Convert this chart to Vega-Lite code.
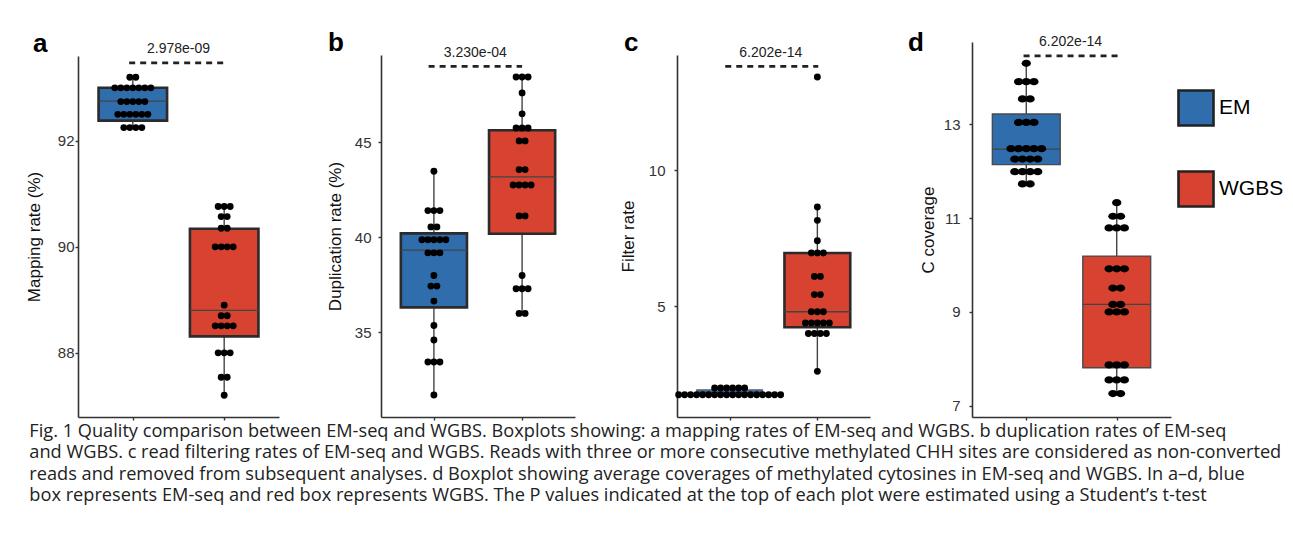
{
"$schema": "https://vega.github.io/schema/vega-lite/v6.json",
"padding": {"left": 25, "top": 29, "right": 5, "bottom": 5},
"background": "white",
"config": {
 "view": {"stroke": null},
 "font": "Liberation Sans",
 "axis": {"grid": false, "domainColor": "#333", "domainWidth": 1.6, "tickColor": "#333", "tickWidth": 1.4, "tickSize": 3, "labelFontSize": 15, "labelColor": "#333", "labelFont": "Liberation Sans", "titleFont": "Liberation Sans", "titleFontSize": 17, "titleFontWeight": "normal", "titleColor": "#111"},
 "text": {"font": "Liberation Sans"}
},
"datasets": {
 "dots": [
  {"p":"a","m":"EM","v":93.2},{"p":"a","m":"EM","v":93.2},
  {"p":"a","m":"EM","v":93.0},{"p":"a","m":"EM","v":93.0},{"p":"a","m":"EM","v":93.0},{"p":"a","m":"EM","v":93.0},{"p":"a","m":"EM","v":93.0},{"p":"a","m":"EM","v":93.0},{"p":"a","m":"EM","v":93.0},
  {"p":"a","m":"EM","v":92.74},{"p":"a","m":"EM","v":92.74},{"p":"a","m":"EM","v":92.74},{"p":"a","m":"EM","v":92.74},{"p":"a","m":"EM","v":92.74},
  {"p":"a","m":"EM","v":92.5},{"p":"a","m":"EM","v":92.5},{"p":"a","m":"EM","v":92.5},{"p":"a","m":"EM","v":92.5},{"p":"a","m":"EM","v":92.5},{"p":"a","m":"EM","v":92.5},
  {"p":"a","m":"EM","v":92.25},{"p":"a","m":"EM","v":92.25},{"p":"a","m":"EM","v":92.25},{"p":"a","m":"EM","v":92.25},
  {"p":"a","m":"WGBS","v":90.76},{"p":"a","m":"WGBS","v":90.76},{"p":"a","m":"WGBS","v":90.76},
  {"p":"a","m":"WGBS","v":90.57},{"p":"a","m":"WGBS","v":90.57},
  {"p":"a","m":"WGBS","v":90.35},{"p":"a","m":"WGBS","v":90.35},
  {"p":"a","m":"WGBS","v":90.0},{"p":"a","m":"WGBS","v":90.0},{"p":"a","m":"WGBS","v":90.0},{"p":"a","m":"WGBS","v":90.0},
  {"p":"a","m":"WGBS","v":88.9},
  {"p":"a","m":"WGBS","v":88.7},{"p":"a","m":"WGBS","v":88.7},
  {"p":"a","m":"WGBS","v":88.51},{"p":"a","m":"WGBS","v":88.51},{"p":"a","m":"WGBS","v":88.51},{"p":"a","m":"WGBS","v":88.51},
  {"p":"a","m":"WGBS","v":88.0},{"p":"a","m":"WGBS","v":88.0},{"p":"a","m":"WGBS","v":88.0},
  {"p":"a","m":"WGBS","v":87.54},{"p":"a","m":"WGBS","v":87.54},
  {"p":"a","m":"WGBS","v":87.2},
  {"p":"b","m":"EM","v":43.47},
  {"p":"b","m":"EM","v":41.4},{"p":"b","m":"EM","v":41.4},{"p":"b","m":"EM","v":41.4},
  {"p":"b","m":"EM","v":40.54},{"p":"b","m":"EM","v":40.54},
  {"p":"b","m":"EM","v":39.86},{"p":"b","m":"EM","v":39.86},{"p":"b","m":"EM","v":39.86},{"p":"b","m":"EM","v":39.86},{"p":"b","m":"EM","v":39.86},
  {"p":"b","m":"EM","v":39.17},{"p":"b","m":"EM","v":39.17},{"p":"b","m":"EM","v":39.17},
  {"p":"b","m":"EM","v":37.98},
  {"p":"b","m":"EM","v":37.42},{"p":"b","m":"EM","v":37.42},
  {"p":"b","m":"EM","v":36.63},
  {"p":"b","m":"EM","v":35.34},
  {"p":"b","m":"EM","v":34.58},
  {"p":"b","m":"EM","v":33.42},{"p":"b","m":"EM","v":33.42},{"p":"b","m":"EM","v":33.42},
  {"p":"b","m":"EM","v":31.68},
  {"p":"b","m":"WGBS","v":48.44},{"p":"b","m":"WGBS","v":48.44},{"p":"b","m":"WGBS","v":48.44},
  {"p":"b","m":"WGBS","v":47.6},
  {"p":"b","m":"WGBS","v":46.5},
  {"p":"b","m":"WGBS","v":45.75},{"p":"b","m":"WGBS","v":45.75},{"p":"b","m":"WGBS","v":45.75},
  {"p":"b","m":"WGBS","v":45.07},{"p":"b","m":"WGBS","v":45.07},
  {"p":"b","m":"WGBS","v":43.56},{"p":"b","m":"WGBS","v":43.56},
  {"p":"b","m":"WGBS","v":42.75},{"p":"b","m":"WGBS","v":42.75},{"p":"b","m":"WGBS","v":42.75},{"p":"b","m":"WGBS","v":42.75},
  {"p":"b","m":"WGBS","v":41.12},{"p":"b","m":"WGBS","v":41.12},
  {"p":"b","m":"WGBS","v":37.98},
  {"p":"b","m":"WGBS","v":37.28},{"p":"b","m":"WGBS","v":37.28},{"p":"b","m":"WGBS","v":37.28},
  {"p":"b","m":"WGBS","v":35.98},{"p":"b","m":"WGBS","v":35.98},
  {"p":"c","m":"EM","v":2.0},{"p":"c","m":"EM","v":2.0},{"p":"c","m":"EM","v":2.0},{"p":"c","m":"EM","v":2.0},{"p":"c","m":"EM","v":2.0},{"p":"c","m":"EM","v":2.0},
  {"p":"c","m":"EM","v":1.75},{"p":"c","m":"EM","v":1.75},{"p":"c","m":"EM","v":1.75},{"p":"c","m":"EM","v":1.75},{"p":"c","m":"EM","v":1.75},{"p":"c","m":"EM","v":1.75},
  {"p":"c","m":"EM","v":1.75},{"p":"c","m":"EM","v":1.75},{"p":"c","m":"EM","v":1.75},{"p":"c","m":"EM","v":1.75},{"p":"c","m":"EM","v":1.75},{"p":"c","m":"EM","v":1.75},
  {"p":"c","m":"EM","v":1.75},{"p":"c","m":"EM","v":1.75},{"p":"c","m":"EM","v":1.75},{"p":"c","m":"EM","v":1.75},{"p":"c","m":"EM","v":1.75},{"p":"c","m":"EM","v":1.75},
  {"p":"c","m":"WGBS","v":13.43},
  {"p":"c","m":"WGBS","v":8.65},
  {"p":"c","m":"WGBS","v":8.16},
  {"p":"c","m":"WGBS","v":7.41},
  {"p":"c","m":"WGBS","v":6.96},{"p":"c","m":"WGBS","v":6.96},{"p":"c","m":"WGBS","v":6.96},
  {"p":"c","m":"WGBS","v":6.1},{"p":"c","m":"WGBS","v":6.1},
  {"p":"c","m":"WGBS","v":5.43},{"p":"c","m":"WGBS","v":5.43},
  {"p":"c","m":"WGBS","v":4.8},{"p":"c","m":"WGBS","v":4.8},{"p":"c","m":"WGBS","v":4.8},
  {"p":"c","m":"WGBS","v":4.39},{"p":"c","m":"WGBS","v":4.39},{"p":"c","m":"WGBS","v":4.39},{"p":"c","m":"WGBS","v":4.39},{"p":"c","m":"WGBS","v":4.39},
  {"p":"c","m":"WGBS","v":4.0},{"p":"c","m":"WGBS","v":4.0},{"p":"c","m":"WGBS","v":4.0},{"p":"c","m":"WGBS","v":4.0},
  {"p":"c","m":"WGBS","v":2.61},
  {"p":"d","m":"EM","v":14.3},
  {"p":"d","m":"EM","v":13.91},{"p":"d","m":"EM","v":13.91},{"p":"d","m":"EM","v":13.91},
  {"p":"d","m":"EM","v":13.54},{"p":"d","m":"EM","v":13.54},
  {"p":"d","m":"EM","v":13.04},{"p":"d","m":"EM","v":13.04},{"p":"d","m":"EM","v":13.04},
  {"p":"d","m":"EM","v":12.48},{"p":"d","m":"EM","v":12.48},{"p":"d","m":"EM","v":12.48},{"p":"d","m":"EM","v":12.48},{"p":"d","m":"EM","v":12.48},
  {"p":"d","m":"EM","v":12.26},{"p":"d","m":"EM","v":12.26},{"p":"d","m":"EM","v":12.26},{"p":"d","m":"EM","v":12.26},
  {"p":"d","m":"EM","v":11.99},{"p":"d","m":"EM","v":11.99},{"p":"d","m":"EM","v":11.99},{"p":"d","m":"EM","v":11.99},
  {"p":"d","m":"EM","v":11.73},{"p":"d","m":"EM","v":11.73},
  {"p":"d","m":"WGBS","v":11.33},
  {"p":"d","m":"WGBS","v":11.04},{"p":"d","m":"WGBS","v":11.04},
  {"p":"d","m":"WGBS","v":10.79},{"p":"d","m":"WGBS","v":10.79},{"p":"d","m":"WGBS","v":10.79},
  {"p":"d","m":"WGBS","v":9.92},{"p":"d","m":"WGBS","v":9.92},{"p":"d","m":"WGBS","v":9.92},
  {"p":"d","m":"WGBS","v":9.51},{"p":"d","m":"WGBS","v":9.51},
  {"p":"d","m":"WGBS","v":9.16},{"p":"d","m":"WGBS","v":9.16},
  {"p":"d","m":"WGBS","v":9.0},{"p":"d","m":"WGBS","v":9.0},{"p":"d","m":"WGBS","v":9.0},
  {"p":"d","m":"WGBS","v":7.87},{"p":"d","m":"WGBS","v":7.87},{"p":"d","m":"WGBS","v":7.87},
  {"p":"d","m":"WGBS","v":7.55},{"p":"d","m":"WGBS","v":7.55},{"p":"d","m":"WGBS","v":7.55},
  {"p":"d","m":"WGBS","v":7.26},{"p":"d","m":"WGBS","v":7.26}
 ],
 "box": [
  {"p":"a","m":"EM","lo":92.25,"q1":92.38,"med":92.75,"q3":93.0,"hi":93.2},
  {"p":"a","m":"WGBS","lo":87.2,"q1":88.31,"med":88.8,"q3":90.34,"hi":90.76},
  {"p":"b","m":"EM","lo":31.68,"q1":36.3,"med":39.32,"q3":40.2,"hi":43.47},
  {"p":"b","m":"WGBS","lo":35.98,"q1":40.18,"med":43.18,"q3":45.63,"hi":48.44},
  {"p":"c","m":"EM","lo":1.75,"q1":1.8,"med":1.82,"q3":1.93,"hi":2.0},
  {"p":"c","m":"WGBS","lo":2.61,"q1":4.23,"med":4.8,"q3":6.96,"hi":8.65},
  {"p":"d","m":"EM","lo":11.73,"q1":12.14,"med":12.47,"q3":13.22,"hi":14.3},
  {"p":"d","m":"WGBS","lo":7.26,"q1":7.81,"med":9.16,"q3":10.19,"hi":11.33}
 ],
 "pv": [
  {"p":"a","label":"2.978e-09","level":93.47},
  {"p":"b","label":"3.230e-04","level":49.0},
  {"p":"c","label":"6.202e-14","level":13.82},
  {"p":"d","label":"6.202e-14","level":14.46}
 ]
},
"title": {
 "text": [
  "Fig. 1  Quality comparison between EM-seq and WGBS. Boxplots showing: a mapping rates of EM-seq and WGBS. b duplication rates of EM-seq",
  "and WGBS. c read filtering rates of EM-seq and WGBS. Reads with three or more consecutive methylated CHH sites are considered as non-converted",
  "reads and removed from subsequent analyses. d Boxplot showing average coverages of methylated cytosines in EM-seq and WGBS. In a–d, blue",
  "box represents EM-seq and red box represents WGBS. The P values indicated at the top of each plot were estimated using a Student’s t-test"
 ],
 "orient": "bottom", "anchor": "start", "frame": "bounds", "font": "Open Sans", "fontSize": 18.2, "fontWeight": "normal", "lineHeight": 21.5, "offset": 2, "color": "#222", "dx": 4
},
"resolve": {"scale": {"color": "independent"}, "legend": {"color": "independent"}},
"bounds": "flush",
"spacing": 102,
"hconcat": [
 {
  "width": 201, "height": 375,
  "title": {"text": "a", "anchor": "start", "frame": "group", "dx": -45, "dy": 36, "offset": 0, "baseline": "alphabetic", "fontSize": 26, "fontWeight": "bold", "font": "Liberation Sans", "color": "#000"},
  "encoding": {
   "x": {"field": "gx", "type": "quantitative", "scale": {"domain": [0.4, 2.6], "nice": false, "zero": false}, "axis": {"values": [1, 2], "labels": false, "title": null}},
   "y": {"field": "v", "type": "quantitative", "scale": {"domain": [86.79, 93.6], "range": [375, 14], "nice": false, "zero": false}, "axis": {"values": [88, 90, 92], "title": "Mapping rate (%)", "labelPadding": 1, "titlePadding": 14}}
  },
  "layer": [
   {"data": {"name": "box"}, "transform": [{"filter": "datum.p == 'a'"}, {"calculate": "datum.m == 'EM' ? 1 : 2", "as": "gx"}, {"calculate": "datum.lo", "as": "v"}],
    "mark": {"type": "rule", "color": "#444", "strokeWidth": 1.4}, "encoding": {"y2": {"field": "hi"}}},
   {"data": {"name": "box"}, "transform": [{"filter": "datum.p == 'a'"}, {"calculate": "(datum.m == 'EM' ? 1 : 2) - 0.375", "as": "gx"}, {"calculate": "datum.gx + 0.75", "as": "xr"}, {"calculate": "datum.q1", "as": "v"}],
    "mark": {"type": "bar", "stroke": "#2b2b2b", "strokeWidth": 2.6, "opacity": 1},
    "encoding": {"x2": {"field": "xr"}, "y2": {"field": "q3"}, "color": {"field": "m", "type": "nominal", "scale": {"domain": ["EM", "WGBS"], "range": ["#2F6DAD", "#D84231"]}, "legend": null}}},
   {"data": {"name": "box"}, "transform": [{"filter": "datum.p == 'a'"}, {"calculate": "(datum.m == 'EM' ? 1 : 2) - 0.375", "as": "gx"}, {"calculate": "datum.gx + 0.75", "as": "xr"}, {"calculate": "datum.med", "as": "v"}],
    "mark": {"type": "rule", "color": "#444", "strokeWidth": 1.3}, "encoding": {"x2": {"field": "xr"}}},
   {"data": {"name": "dots"}, "transform": [{"filter": "datum.p == 'a'"}, {"window": [{"op": "row_number", "as": "r"}, {"op": "count", "as": "n"}], "groupby": ["m", "v"], "frame": [null, null]}, {"calculate": "(datum.m == 'EM' ? 1 : 2) + (datum.r - (datum.n + 1) / 2) * 0.0657", "as": "gx"}],
    "mark": {"type": "circle", "size": 47, "color": "#000", "opacity": 1}},
   {"data": {"name": "pv"}, "transform": [{"filter": "datum.p == 'a'"}, {"calculate": "0.96", "as": "gx"}, {"calculate": "2.03", "as": "gx2"}, {"calculate": "datum.level", "as": "v"}],
    "mark": {"type": "rule", "strokeDash": [6, 5], "strokeWidth": 2.6, "color": "#222"}, "encoding": {"x2": {"field": "gx2"}}},
   {"data": {"name": "pv"}, "transform": [{"filter": "datum.p == 'a'"}, {"calculate": "1.5", "as": "gx"}, {"calculate": "datum.level", "as": "v"}],
    "mark": {"type": "text", "dy": -14, "fontSize": 14, "color": "#222", "baseline": "middle"}, "encoding": {"text": {"field": "label"}}}
  ]
 },
 {
  "width": 194, "height": 375,
  "title": {"text": "b", "anchor": "start", "frame": "group", "dx": -53, "dy": 35, "offset": 0, "baseline": "alphabetic", "fontSize": 26, "fontWeight": "bold", "font": "Liberation Sans", "color": "#000"},
  "encoding": {
   "x": {"field": "gx", "type": "quantitative", "scale": {"domain": [0.4, 2.6], "nice": false, "zero": false}, "axis": {"values": [1, 2], "labels": false, "title": null}},
   "y": {"field": "v", "type": "quantitative", "scale": {"domain": [30.52, 49.6], "range": [375, 13], "nice": false, "zero": false}, "axis": {"values": [35, 40, 45], "title": "Duplication rate (%)", "labelPadding": 7, "titlePadding": 10}}
  },
  "layer": [
   {"data": {"name": "box"}, "transform": [{"filter": "datum.p == 'b'"}, {"calculate": "datum.m == 'EM' ? 1 : 2", "as": "gx"}, {"calculate": "datum.lo", "as": "v"}],
    "mark": {"type": "rule", "color": "#444", "strokeWidth": 1.4}, "encoding": {"y2": {"field": "hi"}}},
   {"data": {"name": "box"}, "transform": [{"filter": "datum.p == 'b'"}, {"calculate": "(datum.m == 'EM' ? 1 : 2) - 0.375", "as": "gx"}, {"calculate": "datum.gx + 0.75", "as": "xr"}, {"calculate": "datum.q1", "as": "v"}],
    "mark": {"type": "bar", "stroke": "#2b2b2b", "strokeWidth": 2.6, "opacity": 1},
    "encoding": {"x2": {"field": "xr"}, "y2": {"field": "q3"}, "color": {"field": "m", "type": "nominal", "scale": {"domain": ["EM", "WGBS"], "range": ["#2F6DAD", "#D84231"]}, "legend": null}}},
   {"data": {"name": "box"}, "transform": [{"filter": "datum.p == 'b'"}, {"calculate": "(datum.m == 'EM' ? 1 : 2) - 0.375", "as": "gx"}, {"calculate": "datum.gx + 0.75", "as": "xr"}, {"calculate": "datum.med", "as": "v"}],
    "mark": {"type": "rule", "color": "#444", "strokeWidth": 1.3}, "encoding": {"x2": {"field": "xr"}}},
   {"data": {"name": "dots"}, "transform": [{"filter": "datum.p == 'b'"}, {"window": [{"op": "row_number", "as": "r"}, {"op": "count", "as": "n"}], "groupby": ["m", "v"], "frame": [null, null]}, {"calculate": "(datum.m == 'EM' ? 1 : 2) + (datum.r - (datum.n + 1) / 2) * 0.068", "as": "gx"}],
    "mark": {"type": "circle", "size": 47, "color": "#000", "opacity": 1}},
   {"data": {"name": "pv"}, "transform": [{"filter": "datum.p == 'b'"}, {"calculate": "0.94", "as": "gx"}, {"calculate": "2.0", "as": "gx2"}, {"calculate": "datum.level", "as": "v"}],
    "mark": {"type": "rule", "strokeDash": [6, 5], "strokeWidth": 2.6, "color": "#222"}, "encoding": {"x2": {"field": "gx2"}}},
   {"data": {"name": "pv"}, "transform": [{"filter": "datum.p == 'b'"}, {"calculate": "1.47", "as": "gx"}, {"calculate": "datum.level", "as": "v"}],
    "mark": {"type": "text", "dy": -13, "fontSize": 14, "color": "#222", "baseline": "middle"}, "encoding": {"text": {"field": "label"}}}
  ]
 },
 {
  "width": 193, "height": 375,
  "title": {"text": "c", "anchor": "start", "frame": "group", "dx": -53, "dy": 35, "offset": 0, "baseline": "alphabetic", "fontSize": 26, "fontWeight": "bold", "font": "Liberation Sans", "color": "#000"},
  "encoding": {
   "x": {"field": "gx", "type": "quantitative", "scale": {"domain": [0.4, 2.6], "nice": false, "zero": false}, "axis": {"values": [1, 2], "labels": false, "title": null}},
   "y": {"field": "v", "type": "quantitative", "scale": {"domain": [0.93, 14.24], "range": [375, 13], "nice": false, "zero": false}, "axis": {"values": [5, 10], "title": "Filter rate", "labelPadding": 9, "titlePadding": 11}}
  },
  "layer": [
   {"data": {"name": "box"}, "transform": [{"filter": "datum.p == 'c'"}, {"calculate": "datum.m == 'EM' ? 1 : 2", "as": "gx"}, {"calculate": "datum.lo", "as": "v"}],
    "mark": {"type": "rule", "color": "#444", "strokeWidth": 1.4}, "encoding": {"y2": {"field": "hi"}}},
   {"data": {"name": "box"}, "transform": [{"filter": "datum.p == 'c'"}, {"calculate": "(datum.m == 'EM' ? 1 : 2) - 0.375", "as": "gx"}, {"calculate": "datum.gx + 0.75", "as": "xr"}, {"calculate": "datum.q1", "as": "v"}],
    "mark": {"type": "bar", "opacity": 1},
    "encoding": {"x2": {"field": "xr"}, "y2": {"field": "q3"}, "color": {"field": "m", "type": "nominal", "scale": {"domain": ["EM", "WGBS"], "range": ["#2F6DAD", "#D84231"]}, "legend": null},
     "stroke": {"condition": {"test": "datum.m == 'EM'", "value": "#666"}, "value": "#2b2b2b"},
     "strokeWidth": {"condition": {"test": "datum.m == 'EM'", "value": 1.2}, "value": 2.6}}},
   {"data": {"name": "box"}, "transform": [{"filter": "datum.p == 'c'"}, {"calculate": "(datum.m == 'EM' ? 1 : 2) - 0.375", "as": "gx"}, {"calculate": "datum.gx + 0.75", "as": "xr"}, {"calculate": "datum.med", "as": "v"}],
    "mark": {"type": "rule", "color": "#444", "strokeWidth": 1.3}, "encoding": {"x2": {"field": "xr"}}},
   {"data": {"name": "dots"}, "transform": [{"filter": "datum.p == 'c'"}, {"window": [{"op": "row_number", "as": "r"}, {"op": "count", "as": "n"}], "groupby": ["m", "v"], "frame": [null, null]}, {"calculate": "(datum.m == 'EM' ? 1 : 2) + (datum.r - (datum.n + 1) / 2) * 0.0684", "as": "gx"}],
    "mark": {"type": "circle", "size": 47, "color": "#000", "opacity": 1}},
   {"data": {"name": "pv"}, "transform": [{"filter": "datum.p == 'c'"}, {"calculate": "0.95", "as": "gx"}, {"calculate": "2.01", "as": "gx2"}, {"calculate": "datum.level", "as": "v"}],
    "mark": {"type": "rule", "strokeDash": [6, 5], "strokeWidth": 2.6, "color": "#222"}, "encoding": {"x2": {"field": "gx2"}}},
   {"data": {"name": "pv"}, "transform": [{"filter": "datum.p == 'c'"}, {"calculate": "1.47", "as": "gx"}, {"calculate": "datum.level", "as": "v"}],
    "mark": {"type": "text", "dy": -13, "fontSize": 14, "color": "#222", "baseline": "middle"}, "encoding": {"text": {"field": "label"}}}
  ]
 },
 {
  "width": 199, "height": 375,
  "title": {"text": "d", "anchor": "start", "frame": "group", "dx": -64, "dy": 42, "offset": 0, "baseline": "alphabetic", "fontSize": 26, "fontWeight": "bold", "font": "Liberation Sans", "color": "#000"},
  "encoding": {
   "x": {"field": "gx", "type": "quantitative", "scale": {"domain": [0.4, 2.6], "nice": false, "zero": false}, "axis": {"values": [1, 2], "labels": false, "title": null}},
   "y": {"field": "v", "type": "quantitative", "scale": {"domain": [6.76, 14.755], "nice": false, "zero": false}, "axis": {"values": [7, 9, 11, 13], "title": "C coverage", "labelPadding": 9, "titlePadding": 6}}
  },
  "layer": [
   {"data": {"name": "box"}, "transform": [{"filter": "datum.p == 'd'"}, {"calculate": "datum.m == 'EM' ? 1 : 2", "as": "gx"}, {"calculate": "datum.lo", "as": "v"}],
    "mark": {"type": "rule", "color": "#444", "strokeWidth": 1.4}, "encoding": {"y2": {"field": "hi"}}},
   {"data": {"name": "box"}, "transform": [{"filter": "datum.p == 'd'"}, {"calculate": "(datum.m == 'EM' ? 1 : 2) - 0.375", "as": "gx"}, {"calculate": "datum.gx + 0.75", "as": "xr"}, {"calculate": "datum.q1", "as": "v"}],
    "mark": {"type": "bar", "stroke": "#4a4a4a", "strokeWidth": 1.4, "opacity": 1},
    "encoding": {"x2": {"field": "xr"}, "y2": {"field": "q3"}, "color": {"field": "m", "type": "nominal", "scale": {"domain": ["EM", "WGBS"], "range": ["#2F6DAD", "#D84231"]},
     "legend": {"orient": "none", "legendX": 205, "legendY": 47, "title": null, "symbolType": "square", "symbolSize": 1225, "symbolStrokeColor": "#222", "symbolStrokeWidth": 2.6, "symbolOpacity": 1, "labelFontSize": 21, "labelFont": "Liberation Sans", "labelColor": "#000", "rowPadding": 35, "labelOffset": 4, "padding": 0}}}},
   {"data": {"name": "box"}, "transform": [{"filter": "datum.p == 'd'"}, {"calculate": "(datum.m == 'EM' ? 1 : 2) - 0.375", "as": "gx"}, {"calculate": "datum.gx + 0.75", "as": "xr"}, {"calculate": "datum.med", "as": "v"}],
    "mark": {"type": "rule", "color": "#444", "strokeWidth": 1.3}, "encoding": {"x2": {"field": "xr"}}},
   {"data": {"name": "dots"}, "transform": [{"filter": "datum.p == 'd'"}, {"window": [{"op": "row_number", "as": "r"}, {"op": "count", "as": "n"}], "groupby": ["m", "v"], "frame": [null, null]}, {"calculate": "(datum.m == 'EM' ? 1 : 2) + (datum.r - (datum.n + 1) / 2) * 0.0846", "as": "gx"}],
    "mark": {"type": "point", "shape": "M -1 0 A 1 0.78 0 1 0 1 0 A 1 0.78 0 1 0 -1 0 Z", "filled": true, "size": 86, "color": "#000", "opacity": 1, "strokeWidth": 0}},
   {"data": {"name": "pv"}, "transform": [{"filter": "datum.p == 'd'"}, {"calculate": "0.97", "as": "gx"}, {"calculate": "2.03", "as": "gx2"}, {"calculate": "datum.level", "as": "v"}],
    "mark": {"type": "rule", "strokeDash": [6, 5], "strokeWidth": 2.6, "color": "#222"}, "encoding": {"x2": {"field": "gx2"}}},
   {"data": {"name": "pv"}, "transform": [{"filter": "datum.p == 'd'"}, {"calculate": "1.49", "as": "gx"}, {"calculate": "datum.level", "as": "v"}],
    "mark": {"type": "text", "dy": -14, "fontSize": 14, "color": "#222", "baseline": "middle"}, "encoding": {"text": {"field": "label"}}}
  ]
 }
]
}
